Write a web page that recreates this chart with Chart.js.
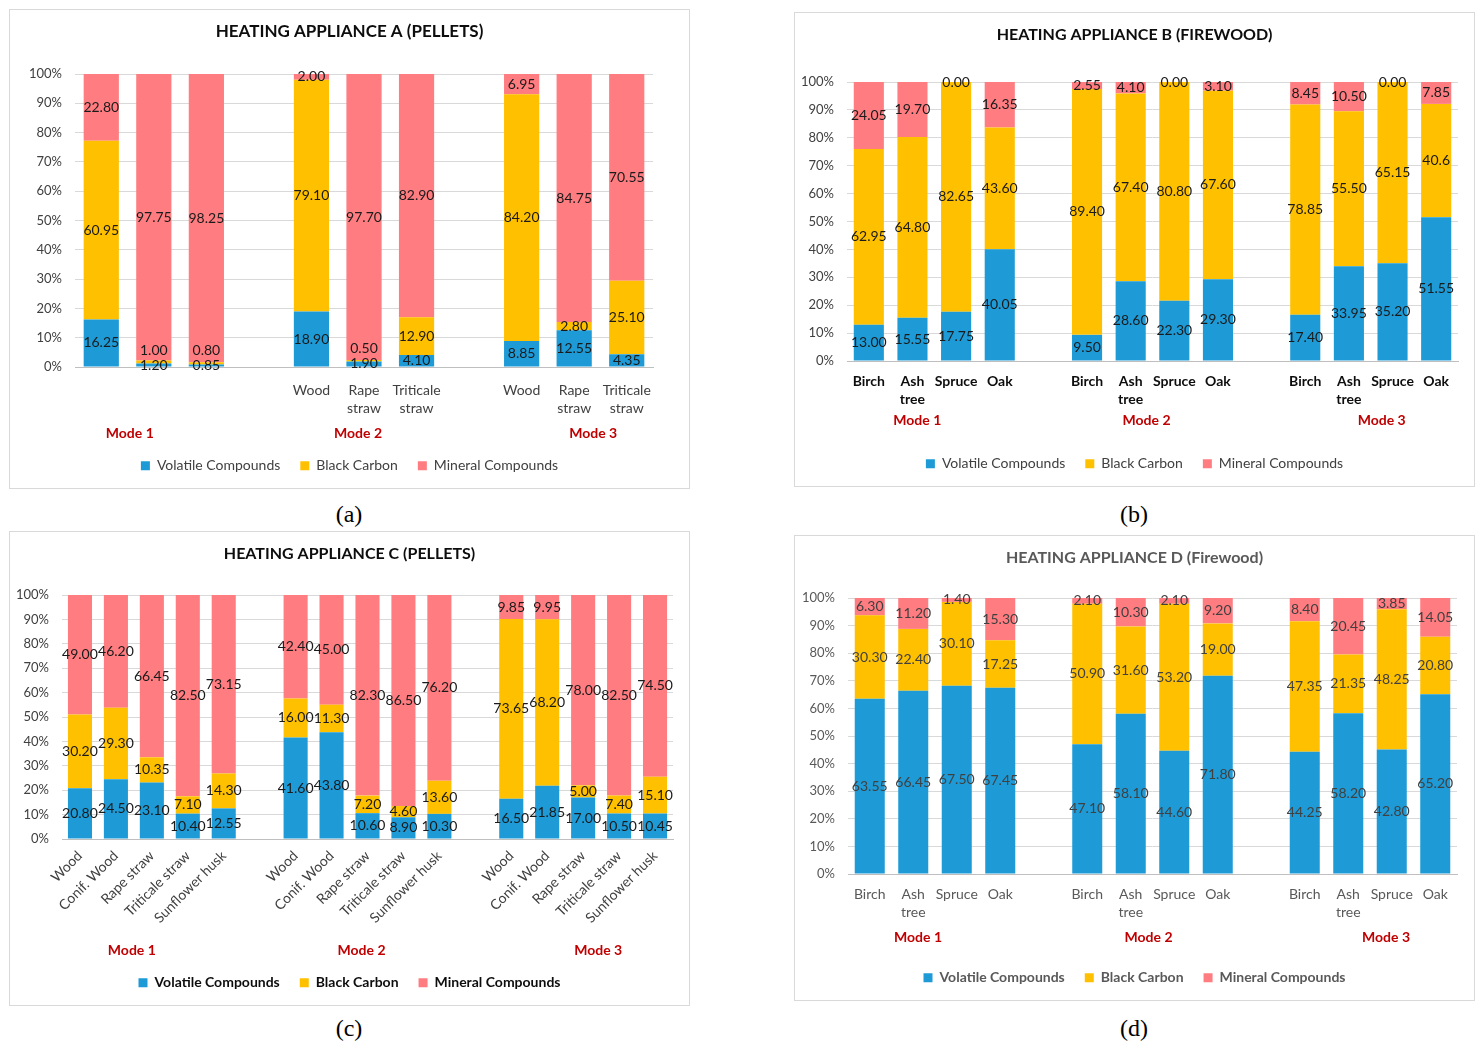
<!DOCTYPE html>
<html>
<head>
<meta charset="utf-8">
<title>Heating appliances - particle composition</title>
<script src="https://cdn.jsdelivr.net/npm/chart.js@4.4.1/dist/chart.umd.min.js"></script>
<style>
  body { margin: 0; background: #fff; width: 1483px; height: 1052px; position: relative; overflow: hidden; }
  .panel { position: absolute; border: 1px solid #d9d9d9; box-sizing: border-box; background: #fff; }
  .panel canvas { display: block; }
  .tag { position: absolute; font-family: 'Liberation Serif', 'DejaVu Serif', serif; font-size: 24px; color: #000; transform: translate(-50%, -50%); }
</style>
</head>
<body>
<div class="panel" style="left:9px;top:9px;width:681px;height:480px"><canvas id="chart-a"></canvas></div>
<div class="panel" style="left:794px;top:12px;width:681px;height:475px"><canvas id="chart-b"></canvas></div>
<div class="panel" style="left:9px;top:531px;width:681px;height:475px"><canvas id="chart-c"></canvas></div>
<div class="panel" style="left:794px;top:535px;width:681px;height:466px"><canvas id="chart-d"></canvas></div>
<div class="tag" style="left:349px;top:514px">(a)</div>
<div class="tag" style="left:1134px;top:514px">(b)</div>
<div class="tag" style="left:349px;top:1028px">(c)</div>
<div class="tag" style="left:1134px;top:1028px">(d)</div>

<script>
'use strict';

// ******* DATA *******
const modes = ['Mode 1', 'Mode 2', 'Mode 3'];
const seriesNames = ['Volatile Compounds', 'Black Carbon', 'Mineral Compounds'];

// appliance A (pellets) - mode 1 has no fuel names under the bars
const fuelsA = [['', '', ''], ['Wood', 'Rape straw', 'Triticale straw'], ['Wood', 'Rape straw', 'Triticale straw']];
const volatileA = [[16.25, 1.20, 0.85], [18.90, 1.90, 4.10], [8.85, 12.55, 4.35]];
const carbonA = [[60.95, 1.00, 0.80], [79.10, 0.50, 12.90], [84.20, 2.80, 25.10]];
const mineralA = [[22.80, 97.75, 98.25], [2.00, 97.70, 82.90], [6.95, 84.75, 70.55]];

// appliance B (firewood)
const woodB = ['Birch', 'Ash tree', 'Spruce', 'Oak'];
const fuelsB = [woodB, woodB, woodB];
const volatileB = [[13.00, 15.55, 17.75, 40.05], [9.50, 28.60, 22.30, 29.30], [17.40, 33.95, 35.20, 51.55]];
const carbonB = [[62.95, 64.80, 82.65, 43.60], [89.40, 67.40, 80.80, 67.60], [78.85, 55.50, 65.15, '40.6']]; // printed as "40.6" in the original
const mineralB = [[24.05, 19.70, 0.00, 16.35], [2.55, 4.10, 0.00, 3.10], [8.45, 10.50, 0.00, 7.85]];

// appliance C (pellets)
const pelletsC = ['Wood', 'Conif. Wood', 'Rape straw', 'Triticale straw', 'Sunflower husk'];
const fuelsC = [pelletsC, pelletsC, pelletsC];
const volatileC = [[20.80, 24.50, 23.10, 10.40, 12.55], [41.60, 43.80, 10.60, 8.90, 10.30], [16.50, 21.85, 17.00, 10.50, 10.45]];
const carbonC = [[30.20, 29.30, 10.35, 7.10, 14.30], [16.00, 11.30, 7.20, 4.60, 13.60], [73.65, 68.20, 5.00, 7.40, 15.10]];
const mineralC = [[49.00, 46.20, 66.45, 82.50, 73.15], [42.40, 45.00, 82.30, 86.50, 76.20], [9.85, 9.95, 78.00, 82.50, 74.50]];

// appliance D (firewood)
const fuelsD = [woodB, woodB, woodB];
const volatileD = [[63.55, 66.45, 67.50, 67.45], [47.10, 58.10, 44.60, 71.80], [44.25, 58.20, 42.80, 65.20]];
const carbonD = [[30.30, 22.40, 30.10, 17.25], [50.90, 31.60, 53.20, 19.00], [47.35, 21.35, 48.25, 20.80]];
const mineralD = [[6.30, 11.20, 1.40, 15.30], [2.10, 10.30, 2.10, 9.20], [8.40, 20.45, 3.85, 14.05]];

const seriesColors = ['#1e9bd7', '#ffc000', '#ff7c80'];
const FONT = "Lato, 'Open Sans', 'DejaVu Sans', sans-serif";

Chart.defaults.font.family = FONT;

// ***** HELPERS *****

// flatten the mode groups, putting one empty slot between groups
function withGaps(groups, gap) {
  let out = [];
  groups.forEach((g, i) => {
    if (i > 0) out.push(gap);
    out.push(...g);
  });
  return out;
}

// 100% stacked like the excel original: each bar is scaled to its own total
function percentOf(series, k) {
  return series[k].map((group, g) => group.map((v, i) => {
    let total = 0;
    series.forEach(s => { total += Number(s[g][i]); });
    return Number(v) / total * 100;
  }));
}

// value labels in the middle of each segment, pushed up when they would overlap
const segmentLabels = {
  id: 'segmentLabels',
  afterDatasetsDraw(chart, args, opts) {
    const ctx = chart.ctx;
    ctx.save();
    ctx.font = opts.font;
    ctx.fillStyle = opts.color;
    ctx.textAlign = 'center';
    ctx.textBaseline = 'middle';
    for (let i = 0; i < chart.data.labels.length; i++) {
      let prevY = null;
      chart.data.datasets.forEach((ds, d) => {
        const raw = ds.rawValues[i];
        if (raw === null) return;
        const bar = chart.getDatasetMeta(d).data[i];
        let y = (bar.y + bar.base) / 2;
        if (prevY !== null) y = Math.min(y, prevY - opts.minGap);
        prevY = y;
        ctx.fillText(typeof raw === 'string' ? raw : raw.toFixed(2), bar.x, y);
      });
    }
    ctx.restore();
  }
};

// red "Mode n" captions under each group of bars
const modeLabels = {
  id: 'modeLabels',
  afterDraw(chart, args, opts) {
    const xScale = chart.scales.x;
    const ctx = chart.ctx;
    ctx.save();
    ctx.font = 'bold 14px ' + FONT;
    ctx.fillStyle = '#c00000';
    ctx.textAlign = 'center';
    ctx.textBaseline = 'middle';
    let start = 0;
    opts.groups.forEach((size, g) => {
      const mid = xScale.getPixelForValue(start + (size - 1) / 2);
      ctx.fillText(modes[g], mid + opts.shift[g], chart.chartArea.bottom + opts.offset);
      start += size + 1;
    });
    ctx.restore();
  }
};

function makeChart(canvasId, cfg) {
  const raws = [cfg.volatile, cfg.carbon, cfg.mineral];
  const labels = withGaps(cfg.fuels.map(g => g.map(f => cfg.wrap ? f.split(' ') : f)), '');

  const datasets = raws.map((series, k) => ({
    label: seriesNames[k],
    data: withGaps(percentOf(raws, k), null),
    rawValues: withGaps(series, null),
    backgroundColor: seriesColors[k],
    categoryPercentage: 1,
    barPercentage: cfg.barPct
  }));

  new Chart(document.getElementById(canvasId), {
    type: 'bar',
    data: { labels: labels, datasets: datasets },
    plugins: [segmentLabels, modeLabels],
    options: {
      responsive: true,
      maintainAspectRatio: false,
      animation: false,
      layout: { padding: { left: 0, top: 0, right: 0, bottom: cfg.padBottom } },
      plugins: {
        title: {
          display: true,
          text: cfg.title,
          color: cfg.titleColor,
          font: { size: cfg.titleSize, weight: 'bold' },
          padding: { top: cfg.titleTop, bottom: cfg.titleBottom }
        },
        legend: {
          position: 'bottom',
          labels: {
            boxWidth: 9,
            boxHeight: 9,
            padding: 20,
            color: cfg.legendColor,
            font: { size: 14, weight: cfg.legendWeight }
          }
        },
        tooltip: { enabled: false },
        segmentLabels: { font: '14px ' + FONT, color: cfg.valueColor, minGap: 15 },
        modeLabels: { groups: cfg.fuels.map(g => g.length), shift: cfg.modeShift, offset: cfg.modeOffset }
      },
      scales: {
        x: {
          stacked: true,
          grid: { display: false, drawTicks: false },
          border: { color: '#bfbfbf' },
          ticks: {
            autoSkip: false,
            minRotation: cfg.rotation,
            maxRotation: cfg.rotation,
            padding: cfg.tickPad,
            color: cfg.tickColor,
            font: { size: 14, weight: cfg.tickWeight, lineHeight: 1.3 }
          },
          afterFit: (scale) => { scale.height = cfg.xHeight; }
        },
        y: {
          stacked: true,
          min: 0,
          max: 100,
          grid: { color: '#d9d9d9', drawTicks: false },
          border: { display: false },
          ticks: {
            stepSize: 10,
            padding: 13,
            color: cfg.yColor,
            font: { size: 13 },
            callback: (v) => v + '%'
          },
          afterFit: (scale) => { scale.width = cfg.yWidth; }
        },
        // empty axis on the right: only keeps the free margin, so the title
        // and legend stay centred on the whole panel
        margin: {
          position: 'right',
          grid: { display: false },
          border: { display: false },
          ticks: { display: false },
          afterFit: (scale) => { scale.width = cfg.rightGap; }
        }
      }
    }
  });
}

// **** EXECUTABLE CODE *****
makeChart('chart-a', {
  title: 'HEATING APPLIANCE A (PELLETS)', titleColor: '#0d0d0d', titleSize: 17,
  fuels: fuelsA, volatile: volatileA, carbon: carbonA, mineral: mineralA,
  wrap: true, rotation: 0, barPct: 0.67,
  rightGap: 36, padBottom: 5.3, titleTop: 11.8, titleBottom: 31.8,
  xHeight: 71.7, yWidth: 65, tickPad: 14,
  tickColor: '#404040', tickWeight: 'normal', yColor: '#404040',
  valueColor: '#1a1a1a', legendColor: '#404040', legendWeight: 'normal',
  modeShift: [-24, -6, 19], modeOffset: 66
});

makeChart('chart-b', {
  title: 'HEATING APPLIANCE B (FIREWOOD)', titleColor: '#0d0d0d', titleSize: 16,
  fuels: fuelsB, volatile: volatileB, carbon: carbonB, mineral: mineralB,
  wrap: true, rotation: 0, barPct: 0.69,
  rightGap: 16, padBottom: 5.3, titleTop: 12.4, titleBottom: 37.4,
  xHeight: 75.7, yWidth: 52, tickPad: 11,
  tickColor: '#0d0d0d', tickWeight: 'bold', yColor: '#404040',
  valueColor: '#1a1a1a', legendColor: '#404040', legendWeight: 'normal',
  modeShift: [-17, -6, 11], modeOffset: 59
});

makeChart('chart-c', {
  title: 'HEATING APPLIANCE C (PELLETS)', titleColor: '#0d0d0d', titleSize: 16,
  fuels: fuelsC, volatile: volatileC, carbon: carbonC, mineral: mineralC,
  wrap: false, rotation: 45, barPct: 0.67,
  rightGap: 16, padBottom: 5.3, titleTop: 12.4, titleBottom: 31.4,
  xHeight: 116.7, yWidth: 52, tickPad: 8,
  tickColor: '#404040', tickWeight: 'normal', yColor: '#404040',
  valueColor: '#1a1a1a', legendColor: '#0d0d0d', legendWeight: 'bold',
  modeShift: [-20, -6, 15], modeOffset: 111
});

makeChart('chart-d', {
  title: 'HEATING APPLIANCE D (Firewood)', titleColor: '#595959', titleSize: 16,
  fuels: fuelsD, volatile: volatileD, carbon: carbonD, mineral: mineralD,
  wrap: true, rotation: 0, barPct: 0.69,
  rightGap: 17, padBottom: 5.3, titleTop: 12.4, titleBottom: 30.4,
  xHeight: 76.7, yWidth: 53, tickPad: 11,
  tickColor: '#595959', tickWeight: 'normal', yColor: '#595959',
  valueColor: '#404040', legendColor: '#595959', legendWeight: 'bold',
  modeShift: [-17, -4, 16], modeOffset: 63
});
</script>
</body>
</html>
